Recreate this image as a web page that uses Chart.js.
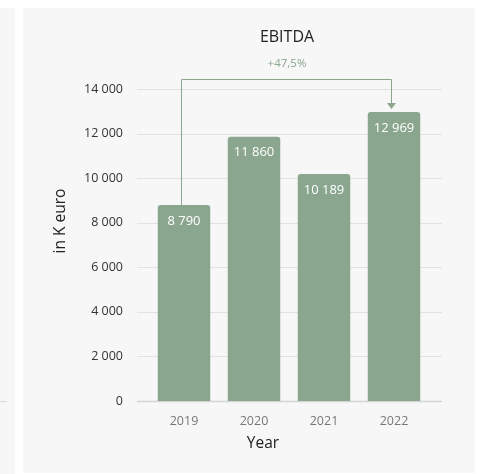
<!DOCTYPE html>
<html>
<head>
<meta charset="utf-8">
<script src="https://cdn.jsdelivr.net/npm/chart.js@4"></script>
<style>
  html, body { margin: 0; padding: 0; background: #ffffff; }
  body { width: 477px; height: 474px; position: relative; overflow: hidden; }
  .panel { position: absolute; background: #f7f7f7; }
  #left { left: 0; top: 8px; width: 15px; height: 466px; }
  #leftline { position: absolute; left: 0; top: 401px; width: 7px; height: 1px; background: #d8d8d8; }
  #main { left: 23px; top: 8px; width: 452px; height: 465px; }
  #wrap { position: absolute; left: 0; top: 0; width: 477px; height: 474px; }
</style>
</head>
<body>
<div class="panel" id="left"></div>
<div id="leftline"></div>
<div class="panel" id="main"></div>
<div id="wrap"><canvas id="c" width="477" height="474"></canvas></div>
<script>
const categories = ["2019", "2020", "2021", "2022"];
const ebitda = [8790, 11860, 10189, 12969];
const yTicks = [0, 2000, 4000, 6000, 8000, 10000, 12000, 14000];
const chartTitle = "EBITDA";
const growthLabel = "+47,5%";
const yTitle = "in K euro";
const xTitle = "Year";

const FONT = "'Open Sans', 'Noto Sans', sans-serif";
const GREEN = "#8ba68f";
const fmt = v => String(Math.round(v)).replace(/\B(?=(\d{3})+(?!\d))/g, " ");

const decor = {
  id: "decor",
  beforeDatasetsDraw(chart) {
    const ctx = chart.ctx, y = chart.scales.y;
    ctx.save();
    y.ticks.forEach(t => {
      const py = Math.round(y.getPixelForValue(t.value)) + 0.5;
      ctx.strokeStyle = t.value === 0 ? "#d4d4d4" : "#e2e2e2";
      ctx.lineWidth = t.value === 0 ? 1.5 : 1;
      ctx.beginPath();
      ctx.moveTo(137, py);
      ctx.lineTo(442, py);
      ctx.stroke();
    });
    ctx.restore();
  },
  afterDatasetsDraw(chart) {
    const ctx = chart.ctx, y = chart.scales.y;
    const bars = chart.getDatasetMeta(0).data;
    ctx.save();
    // value labels
    ctx.fillStyle = "#ffffff";
    ctx.font = "13px " + FONT;
    ctx.textAlign = "center";
    ctx.textBaseline = "middle";
    bars.forEach((b, i) => ctx.fillText(fmt(ebitda[i]), b.x, b.y + 16));
    // bracket
    const first = bars[0], last = bars[bars.length - 1];
    const topY = Math.round(y.getPixelForValue(y.max)) - 10 + 0.5;
    const x0 = Math.round(first.x) - 3 + 0.5, x1 = Math.round(last.x) - 3 + 0.5;
    ctx.strokeStyle = GREEN;
    ctx.lineWidth = 1;
    ctx.beginPath();
    ctx.moveTo(x0, first.y);
    ctx.lineTo(x0, topY);
    ctx.lineTo(x1, topY);
    ctx.lineTo(x1, last.y - 8);
    ctx.stroke();
    ctx.fillStyle = GREEN;
    ctx.beginPath();
    ctx.moveTo(x1 - 4.5, last.y - 9);
    ctx.lineTo(x1 + 4.5, last.y - 9);
    ctx.lineTo(x1, last.y - 3);
    ctx.closePath();
    ctx.fill();
    // growth label
    ctx.fillStyle = "#8ba68f";
    ctx.font = "11.5px " + FONT;
    ctx.fillText(growthLabel, 287, 64);
    // title
    ctx.fillStyle = "#222222";
    ctx.font = "16px " + FONT;
    ctx.fillText(chartTitle, 287, 37);
    // x title
    ctx.fillStyle = "#222222";
    ctx.font = "15.5px " + FONT;
    ctx.fillText(xTitle, 263, 444);
    // y title
    ctx.translate(61, 221);
    ctx.rotate(-Math.PI / 2);
    ctx.font = "15.5px " + FONT;
    ctx.fillText(yTitle, 0, 0);
    ctx.restore();
  }
};

new Chart(document.getElementById("c"), {
  type: "bar",
  data: {
    labels: categories,
    datasets: [{
      data: ebitda,
      backgroundColor: GREEN,
      borderWidth: 0,
      borderRadius: { topLeft: 3, topRight: 3 },
      borderSkipped: "bottom",
      categoryPercentage: 1,
      barPercentage: 0.75
    }]
  },
  options: {
    responsive: false,
    animation: false,
    events: [],
    layout: { padding: { left: 0, right: 48, top: 89, bottom: 0 } },
    plugins: { legend: { display: false }, tooltip: { enabled: false }, title: { display: false } },
    scales: {
      x: {
        grid: { display: false, drawTicks: false },
        border: { display: false },
        ticks: { color: "#777777", font: { family: FONT, size: 12.5 }, padding: 13 },
        afterFit: s => { s.height = 73; }
      },
      y: {
        min: 0,
        max: 14000,
        afterBuildTicks: s => { s.ticks = yTicks.map(v => ({ value: v })); },
        grid: { display: false, drawTicks: false },
        border: { display: false },
        ticks: {
          color: "#333333",
          font: { family: FONT, size: 12.5 },
          padding: 26,
          callback: v => fmt(v)
        },
        afterFit: s => { s.width = 149; }
      }
    }
  },
  plugins: [decor]
});
</script>
</body>
</html>
